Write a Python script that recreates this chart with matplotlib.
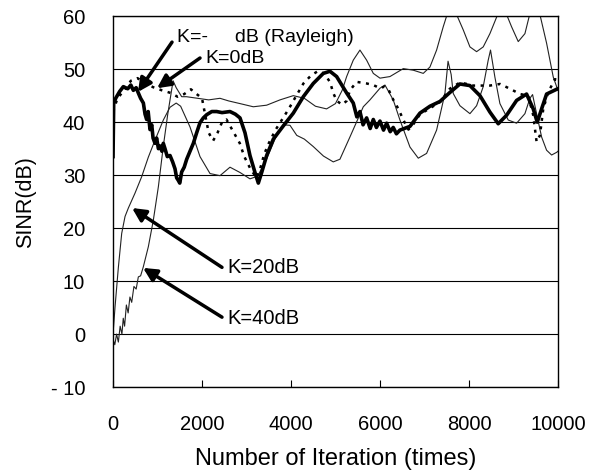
import matplotlib
matplotlib.use("Agg")
import matplotlib.pyplot as plt

plt.rcParams['font.family'] = ['Liberation Sans', 'DejaVu Sans']

# K = -inf dB (Rayleigh), thick noisy line
ray_x = [0, 15, 60, 150, 232, 330, 400, 457, 520, 569, 620, 682, 720, 756, 790, 831, 870,
         900, 944, 980, 1020, 1056, 1100, 1130, 1168, 1220, 1281, 1340, 1393, 1430, 1468,
         1500, 1543, 1600, 1656, 1730, 1805, 1880, 1955, 2030, 2105, 2220, 2330, 2450,
         2629, 2750, 2854, 2966, 3078, 3191, 3266, 3341, 3453, 3603, 3828, 4052, 4277,
         4501, 4726, 4876, 5026, 5251, 5400, 5480, 5550, 5620, 5700, 5780, 5850, 5920,
         6000, 6080, 6150, 6230, 6298, 6370, 6449, 6674, 6898, 7123, 7348, 7572, 7797,
         8022, 8247, 8471, 8658, 8846, 9071, 9295, 9445, 9535, 9633, 9745, 9970, 10000]
ray_y = [33.5, 43.5, 44.5, 45.8, 46.7, 46.3, 47.0, 46.0, 46.5, 45.5, 44.5, 43.6, 41.5, 40.5,
         42.0, 38.6, 39.5, 37.0, 36.0, 37.0, 35.0, 35.5, 34.5, 36.0, 35.0, 33.5, 33.7, 32.5,
         31.2, 29.5, 29.0, 28.5, 30.6, 31.5, 33.0, 34.5, 36.0, 38.0, 39.9, 40.8, 41.4, 42.0,
         42.0, 41.8, 42.0, 41.5, 40.8, 38.0, 33.7, 30.5, 28.5, 30.5, 33.7, 36.8, 39.3, 41.7,
         44.8, 47.3, 49.2, 49.6, 48.6, 45.5, 43.6, 41.0, 42.0, 39.5, 40.8, 38.8, 40.5, 39.0,
         40.2, 38.5, 39.8, 38.2, 39.0, 37.8, 38.5, 39.2, 41.7, 43.0, 43.9, 45.6, 47.2, 46.9,
         45.0, 41.9, 39.7, 41.3, 44.1, 45.3, 42.5, 40.0, 42.5, 45.3, 46.2, 46.3]

# K = 0 dB, dotted
k0_x = [0, 100, 250, 400, 550, 700, 900, 1100, 1300, 1450, 1600, 1750, 1850, 2000, 2080,
        2150, 2250, 2350, 2450, 2550, 2650, 2750, 2850, 2950, 3100, 3230, 3300, 3400, 3500,
        3650, 3800, 3950, 4100, 4280, 4450, 4600, 4750, 4880, 4950, 5030, 5150, 5250, 5325,
        5475, 5700, 5850, 6000, 6100, 6200, 6300, 6420, 6520, 6640, 6750, 6900, 7100, 7350,
        7570, 7800, 8100, 8470, 8700, 8920, 9150, 9330, 9445, 9520, 9595, 9670, 9780, 9930,
        10000]
k0_y = [42.0, 44.5, 46.0, 47.8, 48.3, 47.5, 46.6, 46.0, 45.5, 44.8, 45.3, 46.2, 45.5, 44.5,
        41.0, 38.0, 36.5, 38.0, 40.0, 40.5, 39.0, 37.5, 36.0, 33.5, 31.0, 29.5, 31.0, 34.0,
        36.0, 38.5, 40.5, 42.5, 44.7, 47.3, 48.8, 49.6, 49.2, 47.5, 45.5, 44.0, 43.3, 44.0,
        46.0, 47.6, 47.3, 47.0, 46.4, 46.7, 46.0, 44.2, 42.4, 40.5, 38.6, 39.6, 41.5, 42.5,
        43.8, 46.3, 47.5, 46.9, 46.9, 47.2, 46.3, 45.3, 45.0, 41.3, 36.3, 37.5, 42.5, 45.6,
        48.1, 48.0]

# K = 20 dB, thin line
k20_x = [0, 45, 120, 195, 270, 345, 494, 644, 794, 944, 1131, 1280, 1420, 1520, 1730, 1955,
         2180, 2404, 2629, 2854, 3078, 3250, 3450, 3650, 3828, 3978, 4130, 4300, 4500, 4730,
         4950, 5100, 5325, 5625, 5775, 6000, 6112, 6298, 6449, 6674, 6861, 7048, 7273, 7460,
         7530, 7600, 7647, 7797, 8022, 8172, 8321, 8433, 8485, 8583, 8696, 8883, 9071, 9258,
         9370, 9430, 9520, 9633, 9745, 9858, 9970, 10000]
k20_y = [0.0, 5.1, 12.6, 19.0, 22.2, 23.8, 26.6, 29.7, 33.4, 36.6, 40.4, 42.8, 43.6, 43.0,
         39.1, 33.5, 30.3, 29.9, 31.5, 30.5, 29.3, 29.8, 33.0, 37.0, 39.5, 39.4, 37.5, 36.8,
         35.4, 33.6, 32.5, 33.0, 37.2, 42.9, 44.2, 46.4, 47.0, 44.2, 40.4, 35.3, 33.2, 34.1,
         38.5, 45.4, 51.5, 49.0, 45.4, 43.1, 41.6, 43.1, 46.7, 51.7, 53.6, 48.5, 43.5, 40.4,
         39.8, 41.6, 44.5, 45.2, 41.6, 37.2, 34.7, 33.8, 34.3, 34.5]

# K = 40 dB, thin line (noisy start)
k40_x = [0, 40, 80, 120, 160, 200, 230, 260, 300, 340, 380, 420, 470, 520, 569, 620, 681,
         794, 906, 1019, 1131, 1230, 1350, 1420, 1543, 1650, 1900, 2150, 2404, 2600, 2854,
         3153, 3453, 3753, 4052, 4300, 4550, 4800, 5000, 5150, 5251, 5400, 5550, 5700, 5850,
         6000, 6224, 6524, 6749, 6973, 7123, 7273, 7422, 7535, 7620, 7722, 7872, 8022, 8172,
         8321, 8471, 8621, 8740, 8846, 8958, 9108, 9258, 9370, 9480, 9595, 9745, 9895, 10000]
k40_y = [-1.0, -2.0, 0.0, -1.5, 1.5, 0.0, 3.0, 1.5, 5.5, 4.0, 7.0, 6.0, 9.0, 8.5, 10.8, 11.0,
         12.7, 16.5, 21.5, 27.8, 35.5, 41.5, 47.8, 46.5, 44.8, 44.8, 44.5, 44.2, 44.5, 44.0,
         43.5, 42.9, 43.2, 44.2, 45.0, 44.5, 43.0, 42.5, 43.5, 46.0, 48.6, 51.7, 53.6, 51.7,
         49.2, 48.3, 48.6, 50.1, 49.8, 49.2, 50.4, 53.6, 58.0, 61.0, 63.0, 60.3, 57.4, 54.2,
         53.3, 54.2, 56.7, 59.8, 62.0, 60.3, 58.0, 55.2, 56.7, 60.5, 63.0, 60.3, 54.9, 48.5,
         46.0]

x_ticks = [0, 2000, 4000, 6000, 8000, 10000]
y_ticks = [-10, 0, 10, 20, 30, 40, 50, 60]
y_tick_labels = ['- 10', '0', '10', '20', '30', '40', '50', '60']

fig = plt.figure(figsize=(5.98, 4.75), dpi=100)
ax = fig.add_axes([0.189, 0.185, 0.744, 0.781])

ax.plot(k20_x, k20_y, color='#222222', lw=0.8)
ax.plot(k40_x, k40_y, color='#222222', lw=0.8)
ax.plot(k0_x, k0_y, color='black', lw=1.8, linestyle=(0, (1.2, 2.2)))
ax.plot(ray_x, ray_y, color='black', lw=2.6)

ax.set_xlim(0, 10000)
ax.set_ylim(-10, 60)
ax.set_xticks(x_ticks)
ax.set_yticks(y_ticks)
ax.set_yticklabels(y_tick_labels)
ax.yaxis.grid(True, color='black', lw=0.8)
ax.set_axisbelow(True)
for s in ax.spines.values():
    s.set_linewidth(1.0)
ax.tick_params(axis='x', direction='in', length=5, pad=20, labelsize=14.5)
ax.tick_params(axis='y', direction='in', length=0, pad=20, labelsize=14.5)

ax.set_xlabel('Number of Iteration (times)', fontsize=17)
ax.xaxis.label.set_va('center')
ax.xaxis.set_label_coords(0.5, -0.193)
ax.set_ylabel('SINR(dB)', fontsize=15.5)
ax.yaxis.label.set_va('center')
ax.yaxis.set_label_coords(-0.196, 0.5)

arrow_kw = dict(arrowstyle='-|>', lw=2.5, color='black', mutation_scale=20,
                shrinkA=0, shrinkB=0)
ax.annotate('', xy=(562, 45.7), xytext=(1326, 55.1), arrowprops=arrow_kw)
ax.annotate('', xy=(989, 46.4), xytext=(1955, 52.1), arrowprops=arrow_kw)
ax.annotate('', xy=(427, 23.8), xytext=(2449, 12.6), arrowprops=arrow_kw)
ax.annotate('', xy=(674, 12.5), xytext=(2449, 3.2), arrowprops=arrow_kw)

ax.text(1438, 56.0, 'K=-     dB (Rayleigh)', fontsize=14, va='center', ha='left')
ax.text(2067, 52.0, 'K=0dB', fontsize=14, va='center', ha='left')
ax.text(2562, 12.6, 'K=20dB', fontsize=14.5, va='center', ha='left')
ax.text(2562, 3.0, 'K=40dB', fontsize=14.5, va='center', ha='left')

fig.savefig('out.png', dpi=100)
